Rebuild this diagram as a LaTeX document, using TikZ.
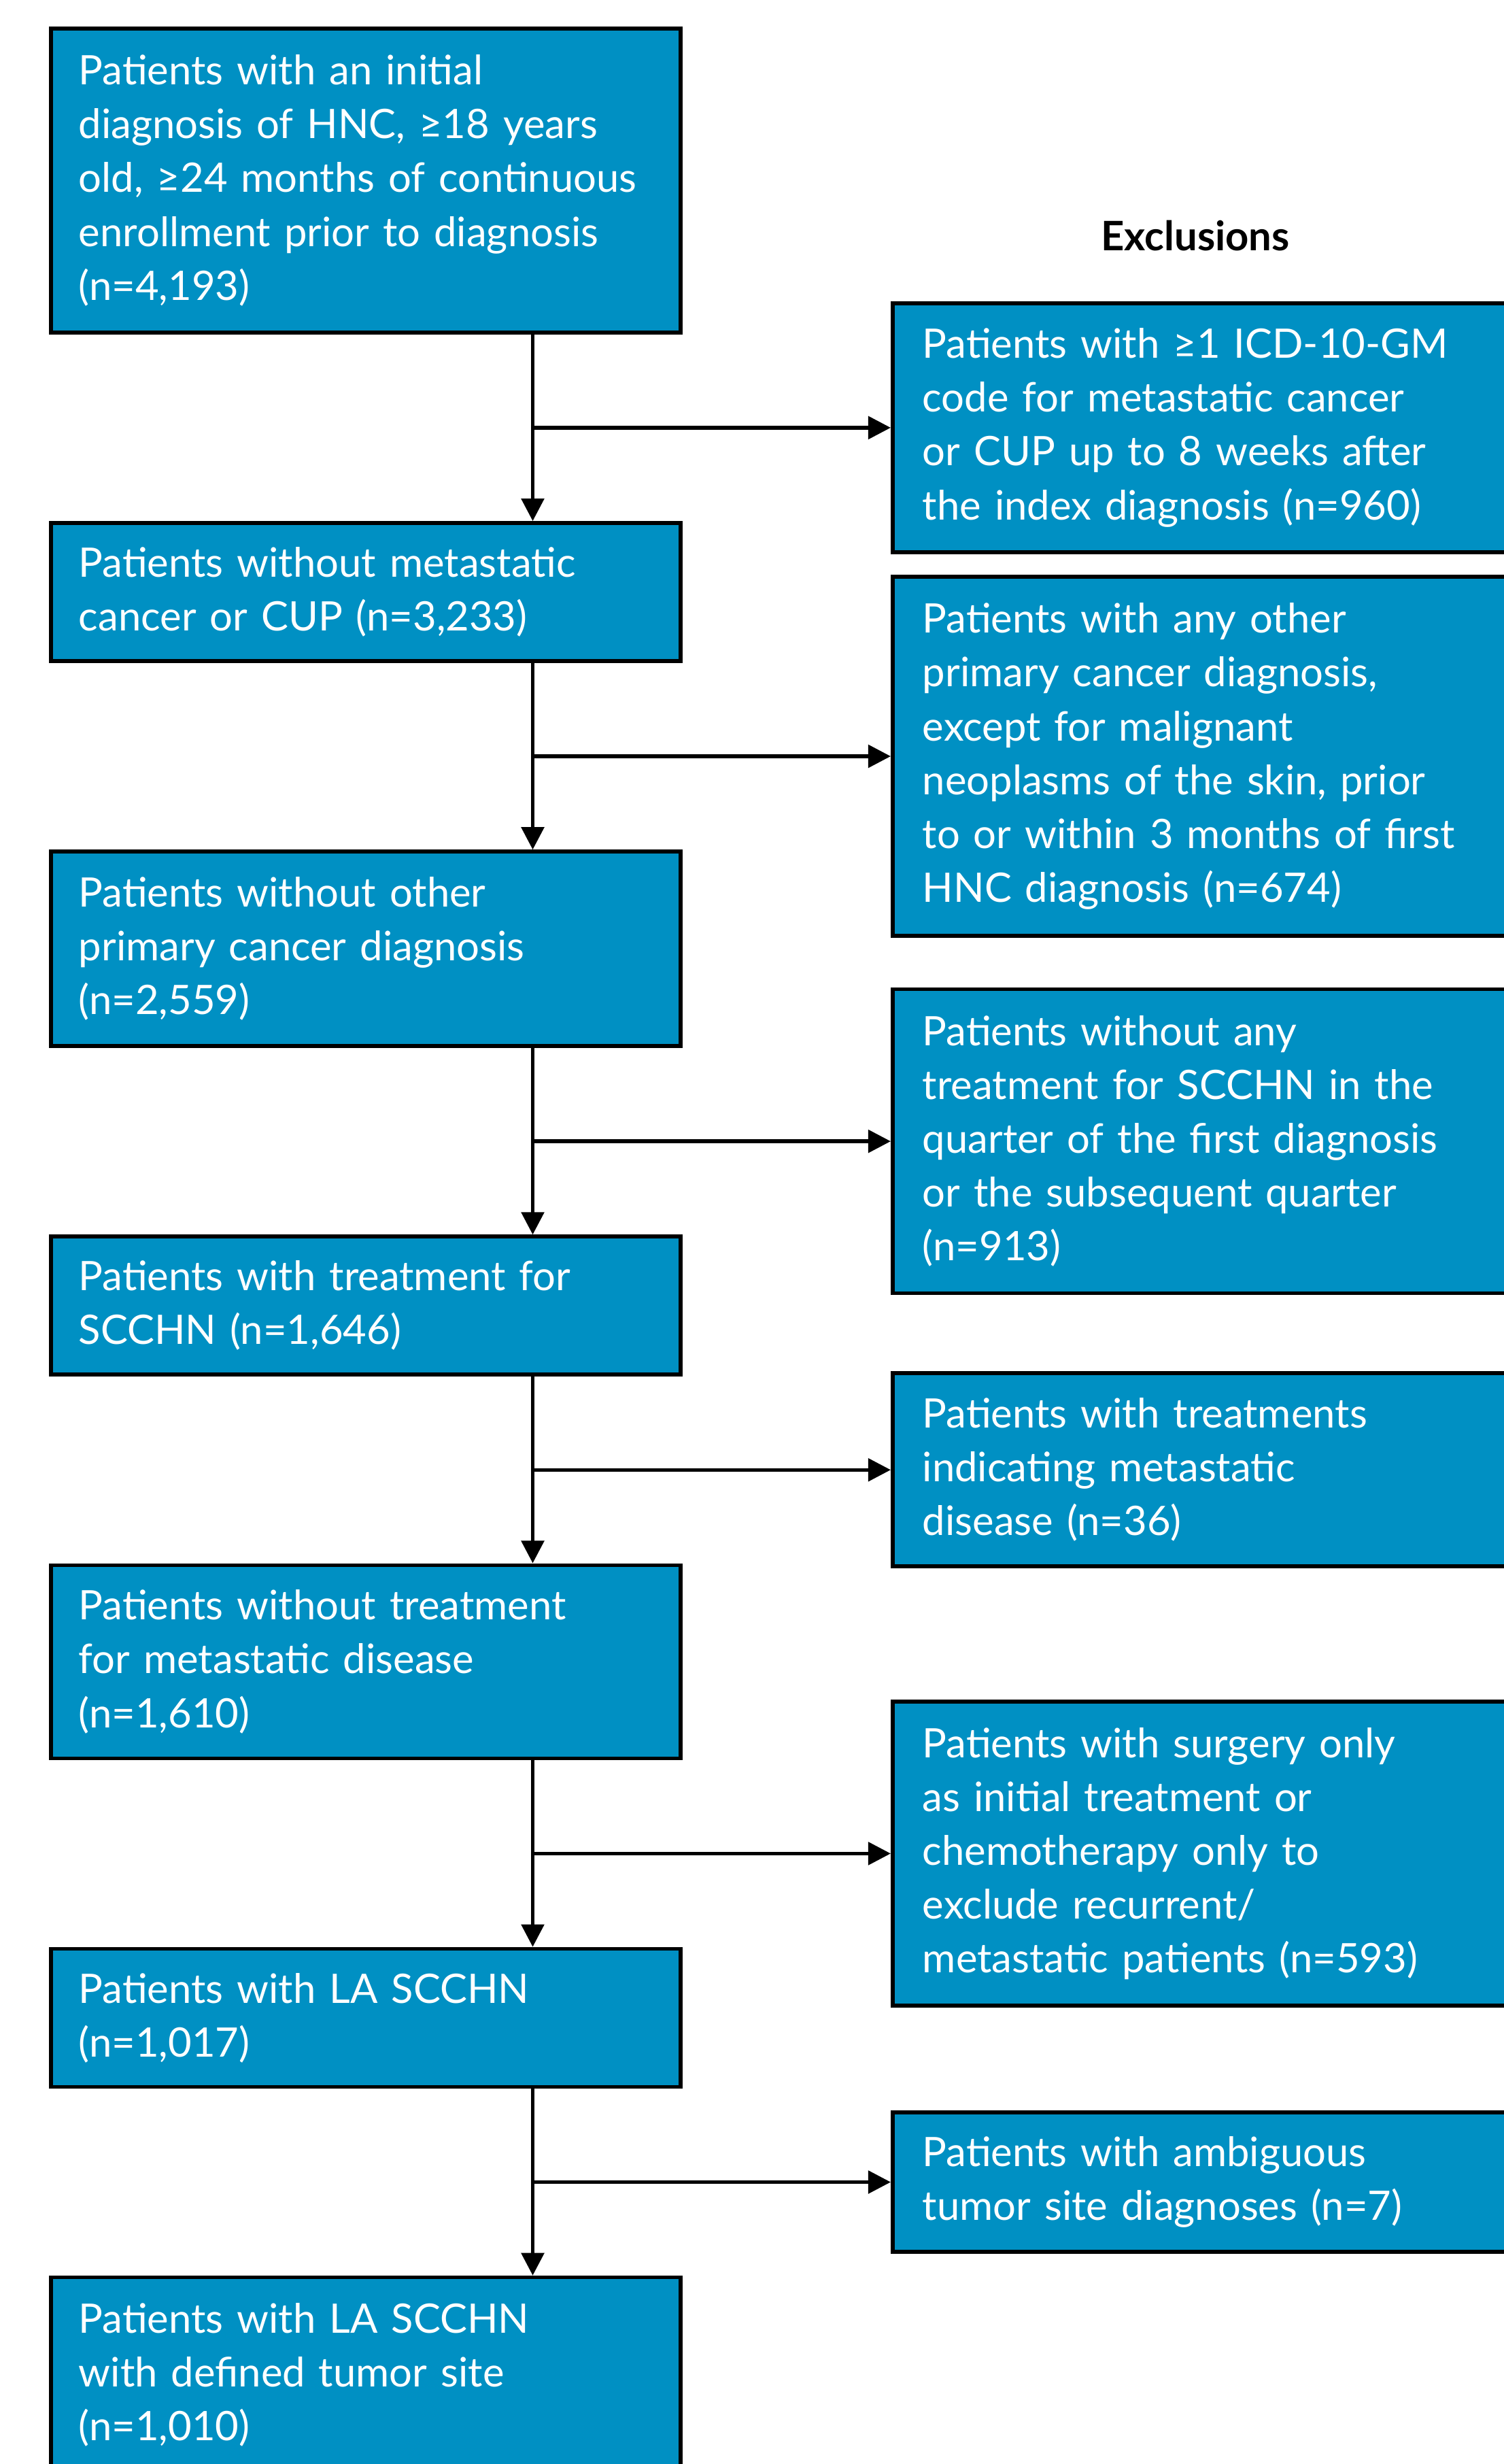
\documentclass[tikz,border=0pt]{standalone}
\usepackage{fontspec}
\setmainfont{Lato}
\usepackage{tikz}
\usetikzlibrary{calc, arrows.meta, positioning}
\definecolor{boxblue}{HTML}{0090C3}
\tikzstyle{incl} = [draw=black, line width=1.6pt, fill=boxblue, rectangle, text=white,
align=left, text width=8.44cm, inner xsep=0.41cm, inner ysep=0pt]
\tikzstyle{excl} = [draw=black, line width=1.6pt, fill=boxblue, rectangle, text=white,
align=left, text width=9cm, inner xsep=0.44cm, inner ysep=0pt, anchor=west]

\begin{document}
\begin{tikzpicture}[node distance=2.745cm, >={Triangle[length=9.4pt,width=9.4pt]},
  font=\fontsize{17}{22.5}\selectfont]
  \useasboundingbox (0,0) rectangle (22.12,-36.23);
  \coordinate (spine) at (7.835,0);
  \coordinate (rcol) at (13.10,0);
  % included patients
  \node [incl, anchor=north west, minimum height=4.47cm] (a) at (0.72,-0.39) {Patients with an initial\\diagnosis of HNC, ≥18 years\\old, ≥24 months of continuous\\enrollment prior to diagnosis\\(n=4,193)};
  \node [incl, minimum height=2.03cm] (b) [below=of a] {Patients without metastatic\\cancer or CUP (n=3,233)};
  \node [incl, minimum height=2.86cm] (c) [below=of b] {Patients without other\\primary cancer diagnosis\\(n=2,559)};
  \node [incl, minimum height=2.03cm] (d) [below=of c] {Patients with treatment for\\SCCHN (n=1,646)};
  \node [incl, minimum height=2.84cm] (e) [below=of d] {Patients without treatment\\for metastatic disease\\(n=1,610)};
  \node [incl, minimum height=2.03cm] (f) [below=of e] {Patients with LA SCCHN\\(n=1,017)};
  \node [incl, minimum height=2.86cm] (g) [below=of f] {Patients with LA SCCHN\\with defined tumor site\\(n=1,010)};
  % exclusions
  \node [font=\fontsize{17}{22.5}\selectfont\bfseries] (head) at (17.58,-3.47) {Exclusions};
  \coordinate (m1) at ($(a.south)!0.5!(b.north)$);
  \coordinate (m2) at ($(b.south)!0.5!(c.north)$);
  \coordinate (m3) at ($(c.south)!0.5!(d.north)$);
  \coordinate (m4) at ($(d.south)!0.5!(e.north)$);
  \coordinate (m5) at ($(e.south)!0.5!(f.north)$);
  \coordinate (m6) at ($(f.south)!0.5!(g.north)$);
  \node [excl, minimum height=3.66cm] (x1) at (m1 -| rcol) {Patients with ≥1 ICD-10-GM\\code for metastatic cancer\\or CUP up to 8 weeks after\\the index diagnosis (n=960)};
  \node [excl, minimum height=5.28cm] (x2) at (m2 -| rcol) {Patients with any other\\primary cancer diagnosis,\\except for malignant\\neoplasms of the skin, prior\\to or within 3 months of first\\HNC diagnosis (n=674)};
  \node [excl, minimum height=4.47cm] (x3) at (m3 -| rcol) {Patients without any\\treatment for SCCHN in the\\quarter of the first diagnosis\\or the subsequent quarter\\(n=913)};
  \node [excl, minimum height=2.84cm] (x4) at (m4 -| rcol) {Patients with treatments\\indicating metastatic\\disease (n=36)};
  \node [excl, minimum height=4.47cm] (x5) at (m5 -| rcol) {Patients with surgery only\\as initial treatment or\\chemotherapy only to\\exclude recurrent/\\metastatic patients (n=593)};
  \node [excl, minimum height=2.05cm] (x6) at (m6 -| rcol) {Patients with ambiguous\\tumor site diagnoses (n=7)};
  % connectors
  \draw[->, line width=1.55pt] (a.south -| spine) -- (b.north -| spine);
  \draw[->, line width=1.55pt] (b.south -| spine) -- (c.north -| spine);
  \draw[->, line width=1.55pt] (c.south -| spine) -- (d.north -| spine);
  \draw[->, line width=1.55pt] (d.south -| spine) -- (e.north -| spine);
  \draw[->, line width=1.55pt] (e.south -| spine) -- (f.north -| spine);
  \draw[->, line width=1.55pt] (f.south -| spine) -- (g.north -| spine);
  \draw[->, line width=1.55pt] (m1 -| spine) -- (x1.west);
  \draw[->, line width=1.55pt] (m2 -| spine) -- (x2.west);
  \draw[->, line width=1.55pt] (m3 -| spine) -- (x3.west);
  \draw[->, line width=1.55pt] (m4 -| spine) -- (x4.west);
  \draw[->, line width=1.55pt] (m5 -| spine) -- (x5.west);
  \draw[->, line width=1.55pt] (m6 -| spine) -- (x6.west);
\end{tikzpicture}
\end{document}
